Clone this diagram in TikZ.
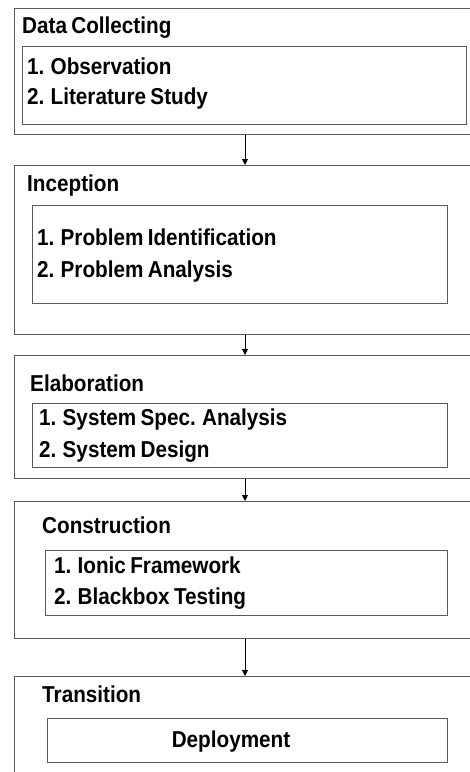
\documentclass[tikz,border=0pt]{standalone}
\usepackage{fontspec}
\setmainfont{Liberation Sans}[FakeStretch=0.9, WordSpace=0.75]
\usetikzlibrary{arrows.meta}
\definecolor{boxline}{HTML}{5A5A5A}
\tikzset{
  outerbox/.style={draw=boxline, line width=1.4pt, rectangle, inner sep=0pt, anchor=north west},
  innerbox/.style={draw=boxline, line width=1.4pt, rectangle, inner sep=0pt, anchor=north west},
  txt/.style={inner sep=0pt, anchor=base west, font=\fontsize{23}{25}\selectfont\bfseries},
  flow/.style={draw=black, line width=0.9pt, -{Triangle[length=6pt,width=6pt]}},
}
\begin{document}
\begin{tikzpicture}[x=1pt,y=-1pt]
\useasboundingbox (0,0) rectangle (470,772);
\clip (0,0) rectangle (470,772);
% outer boxes
\node[outerbox, minimum width=466pt, minimum height=126pt] (o1) at (14,8) {};
\node[outerbox, minimum width=466pt, minimum height=169pt] (o2) at (14,165) {};
\node[outerbox, minimum width=466pt, minimum height=123pt] (o3) at (14,355) {};
\node[outerbox, minimum width=466pt, minimum height=137pt] (o4) at (14,501) {};
\node[outerbox, minimum width=466pt, minimum height=120pt] (o5) at (14,676) {};
% inner boxes
\node[innerbox, minimum width=444pt, minimum height=78pt] (i1) at (22,46) {};
\node[innerbox, minimum width=415pt, minimum height=98pt] (i2) at (32,205) {};
\node[innerbox, minimum width=415pt, minimum height=64pt] (i3) at (32,403) {};
\node[innerbox, minimum width=402pt, minimum height=65pt] (i4) at (45,550) {};
\node[innerbox, minimum width=400pt, minimum height=44pt] (i5) at (47,718) {};
% titles
\node[txt] (t1) at (22,33) {Data Collecting};
\node[txt] (t2) at (27,191) {Inception};
\node[txt] (t3) at (30,391) {Elaboration};
\node[txt] (t4) at (42,533) {Construction};
\node[txt] (t5) at (42,702) {Transition};
% items
\node[txt] (a1) at (27,74) {1. Observation};
\node[txt] (a2) at (27,104) {2. Literature Study};
\node[txt] (b1) at (37,245) {1. Problem Identification};
\node[txt] (b2) at (37,277) {2. Problem Analysis};
\node[txt] (c1) at (39,425) {1. System Spec. Analysis};
\node[txt] (c2) at (39,457) {2. System Design};
\node[txt] (d1) at (54,573) {1. Ionic Framework};
\node[txt] (d2) at (54,604) {2. Blackbox Testing};
\node[txt, anchor=base] (e1) at (231,747) {Deployment};
% arrows
\coordinate (ax) at (245,0);
\draw[flow] (o1.south -| ax) -- (o2.north -| ax);
\draw[flow] (o2.south -| ax) -- (o3.north -| ax);
\draw[flow] (o3.south -| ax) -- (o4.north -| ax);
\draw[flow] (o4.south -| ax) -- (o5.north -| ax);
\end{tikzpicture}
\end{document}
